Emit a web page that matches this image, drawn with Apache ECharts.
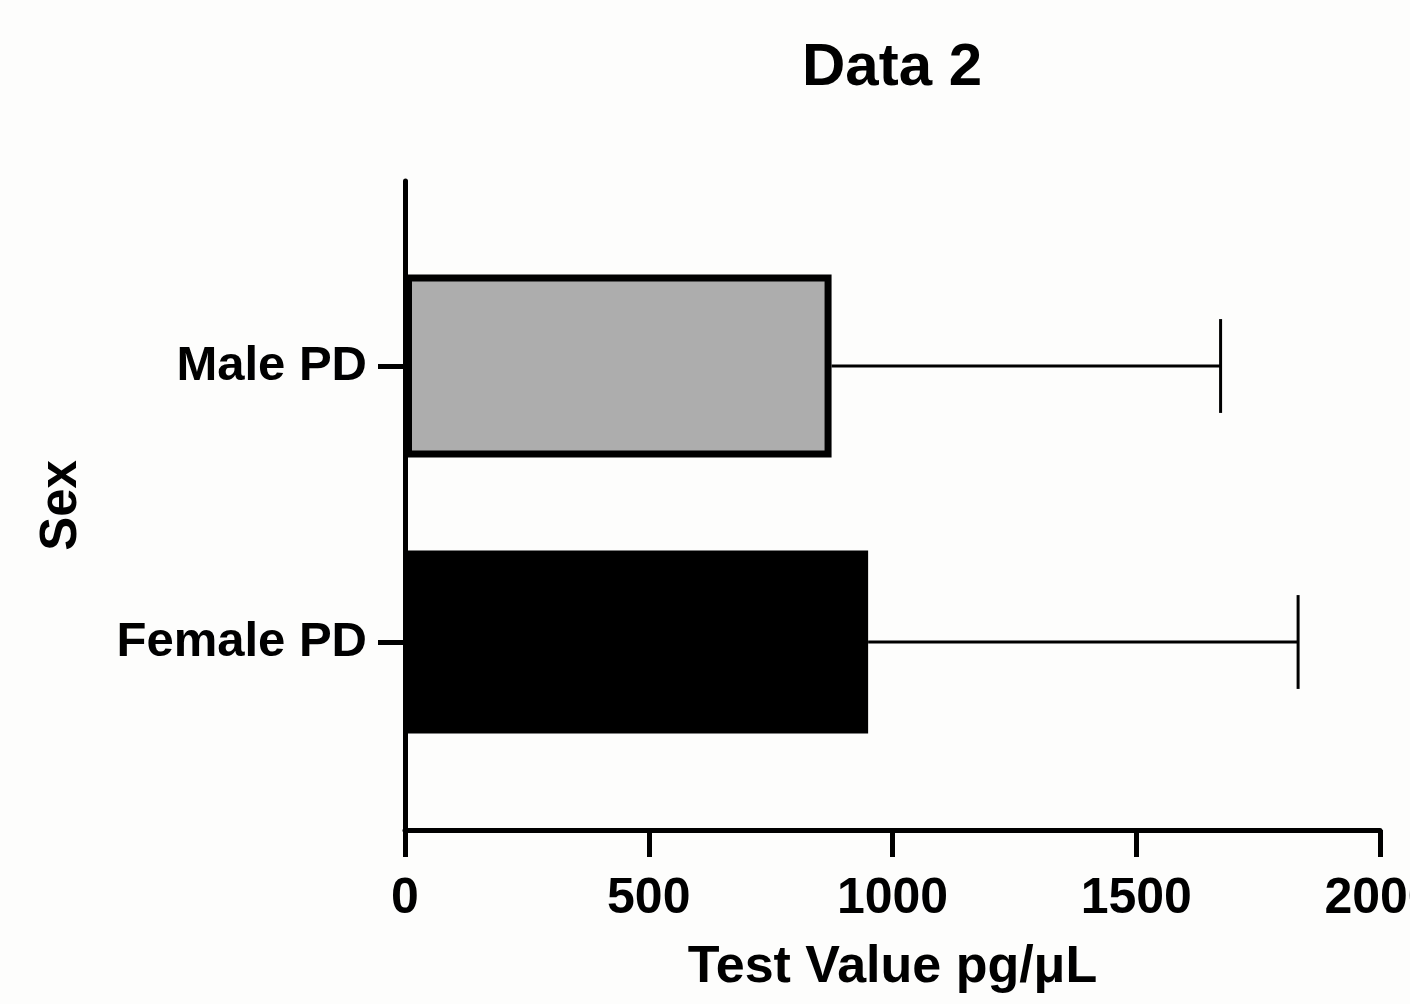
<!DOCTYPE html>
<html>
<head>
<meta charset="utf-8">
<script src="https://cdn.jsdelivr.net/npm/echarts@6/dist/echarts.min.js"></script>
<style>
  html, body { margin: 0; padding: 0; background: #fdfdfc; }
  #main { width: 1410px; height: 1004px; }
</style>
</head>
<body>
<div id="main"></div>
<script>
// data
const categories = ['Female PD', 'Male PD'];
const means = [950, 875];
const sds = [882, 798];
const xTicks = [0, 500, 1000, 1500, 2000];

const FONT = '"Liberation Sans", Arial, Helvetica, sans-serif';
const chart = echarts.init(document.getElementById('main'), null, { renderer: 'canvas' });

const barData = means.map(function (m, i) {
  if (i === 1) {
    return { value: m, itemStyle: { color: '#adadad', borderColor: '#000', borderWidth: 7 } };
  }
  return { value: m, itemStyle: { color: '#000' } };
});

const errData = means.map(function (m, i) { return [i, m, m + sds[i]]; });

const option = {
  backgroundColor: '#fdfdfc',
  animation: false,
  title: {
    text: 'Data 2',
    left: 797,
    top: 33,
    textStyle: { fontFamily: FONT, fontWeight: 'bold', fontSize: 60, color: '#000' }
  },
  grid: [
    // outer frame: value axis + long y line
    { left: 405, right: 30, top: 181, bottom: 174, containLabel: false, outerBoundsMode: 'none' },
    // inner band for the categories
    { left: 405, right: 30, top: 228, bottom: 224, containLabel: false, outerBoundsMode: 'none' }
  ],
  xAxis: [
    {
      type: 'value', gridIndex: 0, min: 0, max: 2000, interval: 500,
      name: 'Test Value pg/\u03bcL', nameLocation: 'middle', nameGap: 112,
      nameTextStyle: { fontFamily: FONT, fontWeight: 'bold', fontSize: 52, color: '#000' },
      axisLine: { lineStyle: { color: '#000', width: 5 } },
      axisTick: { show: true, length: 27, lineStyle: { color: '#000', width: 5 } },
      axisLabel: {
        margin: 44, fontFamily: FONT, fontWeight: 'bold', fontSize: 50, color: '#000',
        showMaxLabel: true, showMinLabel: true,
        formatter: function (v) { return xTicks.indexOf(v) >= 0 ? String(v) : ''; }
      },
      splitLine: { show: false }
    },
    {
      type: 'value', gridIndex: 1, min: 0, max: 2000, show: false
    }
  ],
  yAxis: [
    {
      type: 'value', gridIndex: 0, min: 0, max: 1,
      name: 'Sex', nameLocation: 'middle', nameGap: 318, nameRotate: 90,
      nameTextStyle: { fontFamily: FONT, fontWeight: 'bold', fontSize: 51, color: '#000' },
      axisLine: { show: true, lineStyle: { color: '#000', width: 5 } },
      axisTick: { show: false },
      axisLabel: { show: false },
      splitLine: { show: false }
    },
    {
      type: 'category', gridIndex: 1, data: categories,
      axisLine: { show: false },
      axisTick: { show: true, alignWithLabel: true, length: 27, lineStyle: { color: '#000', width: 5 } },
      axisLabel: {
        margin: 38, fontFamily: FONT, fontWeight: 'bold', fontSize: 49, color: '#000',
        padding: [4, 0, 0, 0]
      }
    }
  ],
  series: [
    {
      type: 'bar', xAxisIndex: 1, yAxisIndex: 1,
      barWidth: 183,
      data: barData,
      z: 3
    },
    {
      type: 'custom', xAxisIndex: 1, yAxisIndex: 1,
      data: errData,
      encode: { x: [1, 2], y: 0 },
      z: 2,
      renderItem: function (params, api) {
        const i = api.value(0);
        const start = api.coord([api.value(1), i]);
        const end = api.coord([api.value(2), i]);
        const half = api.size([0, 1])[1] * 0.17;
        const style = { stroke: '#000', lineWidth: 3 };
        return {
          type: 'group',
          children: [
            { type: 'line', shape: { x1: start[0], y1: start[1], x2: end[0], y2: end[1] }, style: style },
            { type: 'line', shape: { x1: end[0], y1: end[1] - half, x2: end[0], y2: end[1] + half }, style: style }
          ]
        };
      }
    }
  ]
};

chart.setOption(option);
</script>
</body>
</html>
